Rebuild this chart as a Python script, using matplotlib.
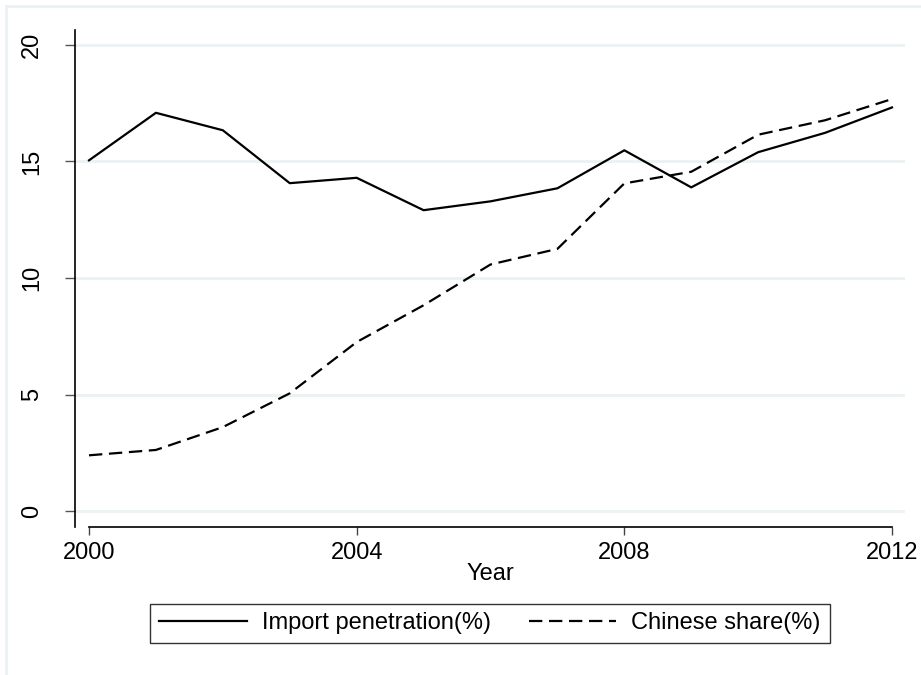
import matplotlib
matplotlib.use("Agg")
import matplotlib.pyplot as plt
from matplotlib.lines import Line2D

years = [2000, 2001, 2002, 2003, 2004, 2005, 2006, 2007, 2008, 2009, 2010, 2011, 2012]
import_penetration = [15.05, 17.09, 16.34, 14.07, 14.30, 12.91, 13.29, 13.85, 15.48, 13.89, 15.40, 16.23, 17.32]
chinese_share = [2.39, 2.62, 3.60, 5.05, 7.25, 8.83, 10.58, 11.25, 14.06, 14.56, 16.15, 16.77, 17.68]
y_ticks = [0, 5, 10, 15, 20]
x_ticks = [2000, 2004, 2008, 2012]

plt.rcParams['font.family'] = ['Liberation Sans', 'DejaVu Sans']

W, H = 921, 675
fig = plt.figure(figsize=(W / 100, H / 100), dpi=100)

# outer light frame (top and left visible)
frame_col = '#EAF2F3'
fig.add_artist(Line2D([6 / W, 1], [1 - 6 / H, 1 - 6 / H], color=frame_col, lw=2, transform=fig.transFigure))
fig.add_artist(Line2D([6 / W, 6 / W], [0, 1 - 6 / H], color=frame_col, lw=2, transform=fig.transFigure))

left, right = 75 / W, 905 / W
bottom, top = 1 - 527 / H, 1 - 30 / H
ax = fig.add_axes([left, bottom, right - left, top - bottom])

# pixel mapping: 2000 -> 89, 2012 -> 892 ; 0 -> 511, 20 -> 45
px_per_year = (892 - 89) / 12
px_per_unit = (511 - 45) / 20
ax.set_xlim(2000 - (89 - 75) / px_per_year, 2012 + (905 - 892) / px_per_year)
ax.set_ylim(-(527 - 511) / px_per_unit, 20 + (45 - 30) / px_per_unit)

for yt in y_ticks:
    ax.axhline(yt, color='#EAF2F3', lw=2, zorder=0)

ax.plot(years, import_penetration, color='black', lw=1.6, label='Import penetration(%)')
ax.plot(years, chinese_share, color='black', lw=1.6, dashes=(6, 3), label='Chinese share(%)')

for s in ['top', 'right']:
    ax.spines[s].set_visible(False)
ax.spines['left'].set_linewidth(1.2)
ax.spines['bottom'].set_linewidth(1.2)
ax.spines['bottom'].set_bounds(2000, 2012)

ax.set_xticks(x_ticks)
ax.set_xticklabels([str(x) for x in x_ticks])
ax.set_yticks(y_ticks)
ax.set_yticklabels([str(y) for y in y_ticks], rotation=90, va='center')
ax.tick_params(axis='x', direction='out', length=6, width=1, color='#444444', labelsize=17, pad=5)
ax.tick_params(axis='y', direction='out', length=7, width=1, color='#555555', labelsize=17, pad=16)

ax.set_xlabel('Year', fontsize=17, labelpad=-1)

leg = fig.legend(loc='center', bbox_to_anchor=(490 / W, 1 - 623.5 / H), ncol=2, fontsize=17,
                 frameon=True, fancybox=False, edgecolor='black', handlelength=3.7,
                 handletextpad=0.65, columnspacing=1.6, borderpad=0.38, borderaxespad=0)
leg.get_frame().set_linewidth(1.0)

fig.savefig('out.png', dpi=100, facecolor='white')
